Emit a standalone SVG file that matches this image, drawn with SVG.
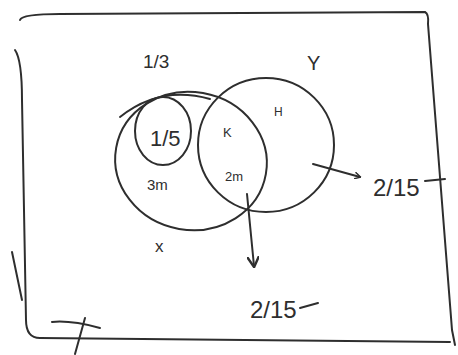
<svg xmlns="http://www.w3.org/2000/svg" width="458" height="355" viewBox="0 0 458 355">
<style>
.ln{fill:none;stroke:#2e2e2e;stroke-width:2;stroke-linecap:round;stroke-linejoin:round}
.tx{font-family:"Liberation Sans",Arial,sans-serif;fill:#2e2e2e}
</style>
<defs>
<marker id="ah" viewBox="0 0 10 10" refX="8" refY="5" markerWidth="7" markerHeight="7" orient="auto" markerUnits="userSpaceOnUse">
<path d="M0,0 L9,5 L0,10" fill="none" stroke="#2e2e2e" stroke-width="2"/>
</marker>
<marker id="ah2" viewBox="0 0 10 10" refX="8" refY="5" markerWidth="12" markerHeight="12" orient="auto" markerUnits="userSpaceOnUse">
<path d="M0,0 L9,5 L0,10" fill="none" stroke="#2e2e2e" stroke-width="2"/>
</marker>
</defs>
<rect width="458" height="355" fill="#ffffff"/>
<g id="frame">
<path class="ln" d="M20,20 Q22,14 60,14 L425,12 Q429,14 428,24 L452,330 L455,345"/>
<path class="ln" d="M15,50 Q22,60 22,100 L26,320 Q26,338 40,338 L450,342"/>
<path class="ln" d="M12,252 L22,300"/>
<path class="ln" d="M52,322 Q70,320 100,328"/>
<path class="ln" d="M85,318 L75,354"/>
</g>
<g id="setX">
<ellipse class="ln" cx="191" cy="161" rx="76" ry="69" transform="rotate(10 191 161)"/>
<path class="ln" d="M120,117 Q160,85 210,99" stroke-width="1.6"/>
<text class="tx" x="155" y="252" font-size="17">x</text>
<text class="tx" x="147" y="190" font-size="15">3m</text>
</g>
<g id="setSmall">
<ellipse class="ln" cx="163" cy="131" rx="28" ry="34"/>
<text class="tx" x="150" y="146" font-size="22">1/5</text>
</g>
<g id="setY">
<ellipse class="ln" cx="266" cy="145" rx="68" ry="67"/>
<text class="tx" x="307" y="70" font-size="20">Y</text>
<text class="tx" x="223" y="137" font-size="13">K</text>
<text class="tx" x="274" y="116" font-size="12">H</text>
<text class="tx" x="225" y="181" font-size="13">2m</text>
</g>
<g id="labels">
<text class="tx" x="143" y="68" font-size="19">1/3</text>
<text class="tx" x="373" y="196" font-size="24">2/15</text>
<text class="tx" x="250" y="318" font-size="24">2/15</text>
</g>
<g id="connectors">
<path class="ln" d="M313,164 L360,177" marker-end="url(#ah)"/>
<path class="ln" d="M247,194 L254,266" stroke-width="2.6" marker-end="url(#ah2)"/>
<path class="ln" d="M300,308 L318,303" stroke-width="1.4"/>
<path class="ln" d="M425,181 L445,179" stroke-width="1.4"/>
</g>
</svg>
